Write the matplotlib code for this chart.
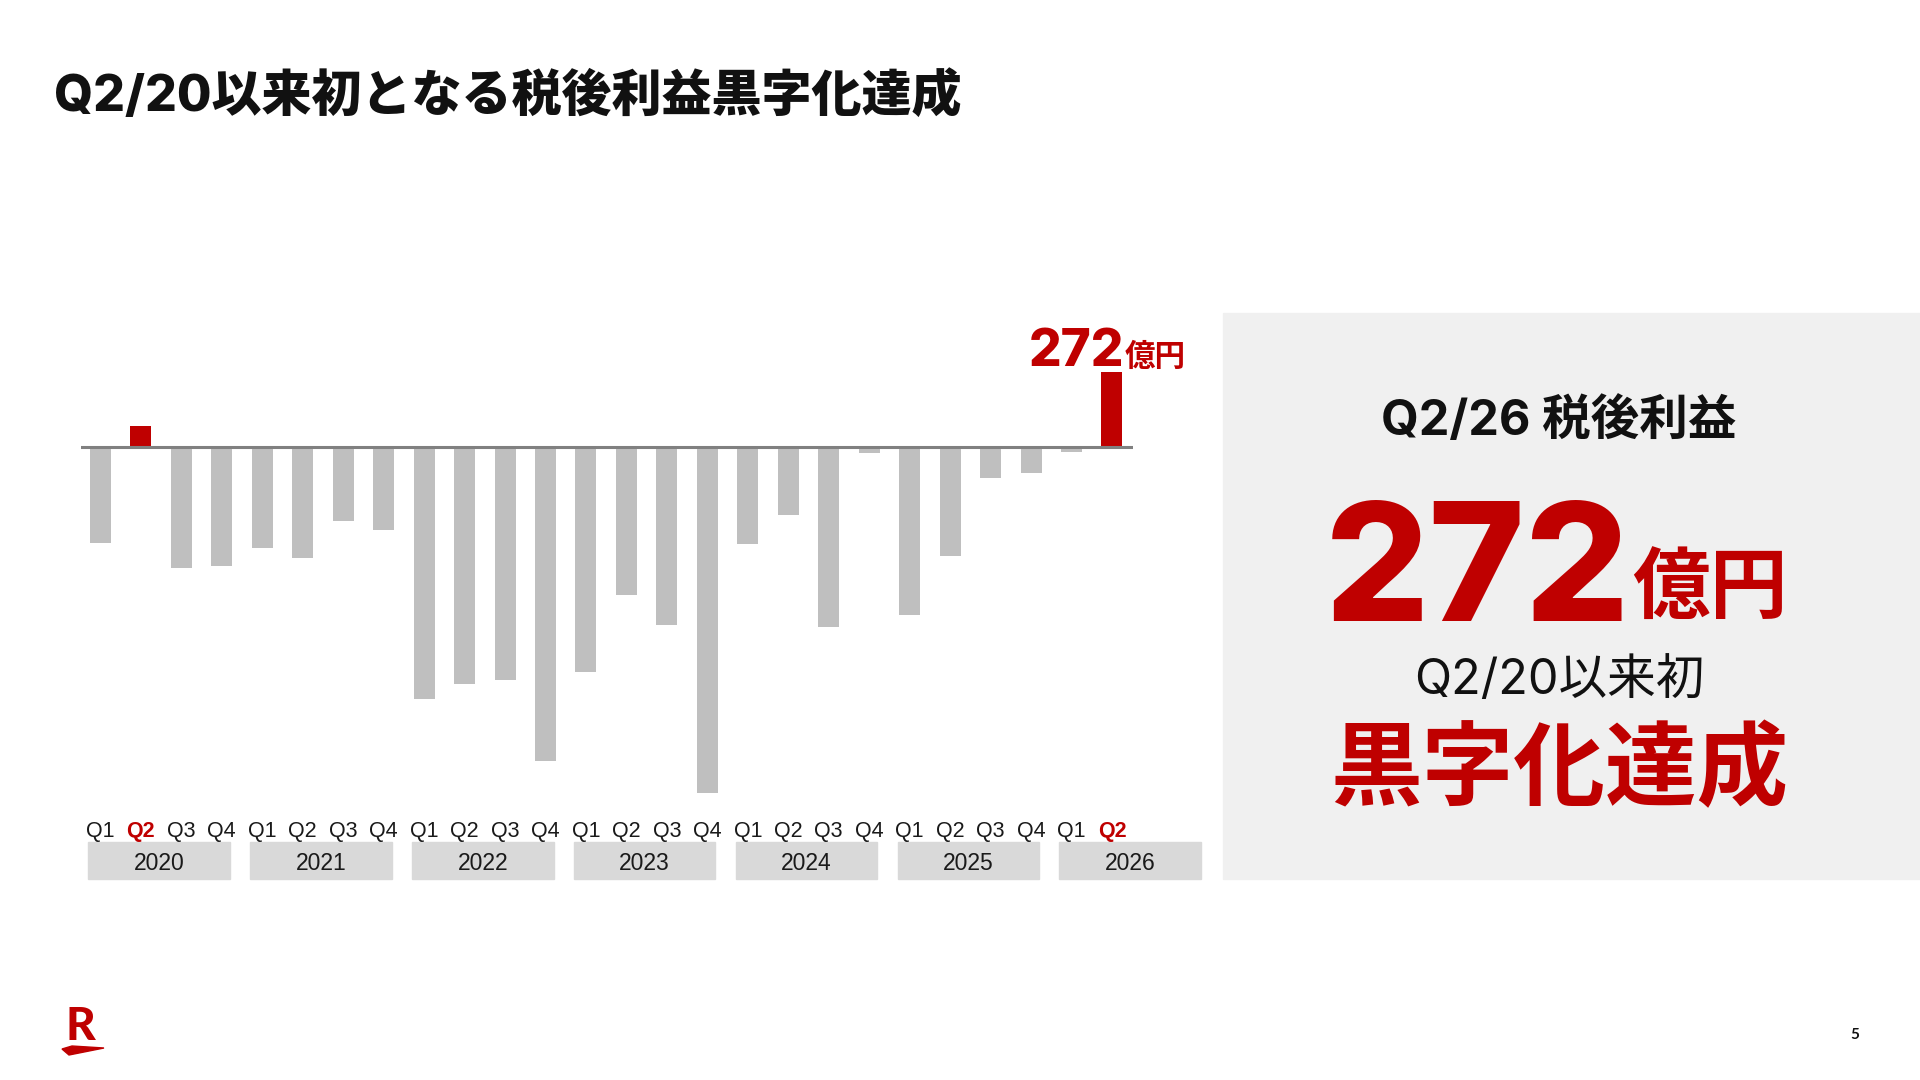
import matplotlib.pyplot as plt
from matplotlib.patches import Rectangle, Polygon
from matplotlib.transforms import blended_transform_factory

# quarterly net income (億円), Q1/2020 .. Q2/2026
years = ['2020', '2021', '2022', '2023', '2024', '2025', '2026']
quarters = ['Q1', 'Q2', 'Q3', 'Q4'] * 6 + ['Q1', 'Q2']
values = [-352, 77, -443, -433,
          -370, -405, -271, -303,
          -920, -864, -851, -1146,
          -822, -540, -649, -1265,
          -355, -249, -656, -23,
          -614, -398, -112, -96,
          -18, 272]
highlight = [1, 25]

RED = '#bf0000'
GRAY = '#bfbfbf'
JP = ['Noto Sans CJK JP', 'DejaVu Sans']
MIX = ['Inter', 'Noto Sans CJK JP', 'DejaVu Sans']
LAT = ['Liberation Sans', 'DejaVu Sans']

plt.rcParams['font.family'] = JP

W, H = 1920, 1080
fig = plt.figure(figsize=(19.2, 10.8), dpi=100)
fig.patch.set_facecolor('white')

def fx(px):
    return px / W

def fy(py):
    return 1 - py / H

# chart axes, placed so 0 sits at y=447px
ax = fig.add_axes([fx(81), fy(803), fx(1133) - fx(81), fy(310) - fy(803)])
x = list(range(len(values)))
colors = [RED if i in highlight else GRAY for i in x]
ax.bar(x, values, width=0.52, color=colors, zorder=2)
ax.axhline(0, color='#808080', lw=2.2, zorder=3)
ax.set_xlim(-0.48, 25.52)
ax.set_ylim(-1300, 500)
for s in ax.spines.values():
    s.set_visible(False)
ax.set_yticks([])
ax.set_xticks(x)
ax.set_xticklabels(quarters, family=LAT, fontsize=15.5, color='#1a1a1a')
ax.tick_params(axis='x', length=0, pad=13)
for i, lab in enumerate(ax.get_xticklabels()):
    if i in highlight:
        lab.set_color(RED)
        lab.set_fontweight('bold')

# value label above last bar
ax.annotate('272', xy=(25, values[25]), xytext=(9, 5), textcoords='offset points',
            ha='right', va='baseline', color=RED, fontsize=37, fontweight='heavy',
            family=MIX)
ax.annotate('億円', xy=(25, values[25]), xytext=(9.5, 5), textcoords='offset points',
            ha='left', va='baseline', color=RED, fontsize=22, fontweight='bold')

# year boxes under the quarter labels
tr = blended_transform_factory(ax.transData, fig.transFigure)
for k, yr in enumerate(years):
    i0 = k * 4
    ax.add_patch(Rectangle((i0 - 0.3, fy(879)), 3.5, fy(842) - fy(879),
                           transform=tr, color='#d9d9d9', clip_on=False, zorder=1))
    ax.text(i0 + 1.45, fy(863), yr, transform=tr, ha='center', va='center',
            family=LAT, fontsize=16.5, color='#1a1a1a')

# title
fig.text(fx(54), fy(96), 'Q2/20以来初となる税後利益黒字化達成', ha='left', va='center',
         fontsize=36, fontweight='heavy', color='#111111', family=MIX)

# right highlight panel
fig.patches.append(Rectangle((fx(1223), fy(879)), fx(1920) - fx(1223), fy(313) - fy(879),
                             transform=fig.transFigure, color='#f0f0f0', zorder=0))
fig.text(fx(1559), fy(422), 'Q2/26 税後利益', ha='center', va='center',
         fontsize=35, fontweight='bold', color='#111111', family=MIX)
fig.text(fx(1630), fy(621), '272', ha='right', va='baseline',
         fontsize=118, fontweight='heavy', color=RED, family=MIX)
fig.text(fx(1632), fy(612), '億円', ha='left', va='baseline',
         fontsize=56, fontweight='bold', color=RED)
fig.text(fx(1559), fy(681), 'Q2/20以来初', ha='center', va='center',
         fontsize=35, color='#111111', family=MIX)
fig.text(fx(1559), fy(771), '黒字化達成', ha='center', va='center',
         fontsize=66, fontweight='bold', color=RED)

# logo and page number
fig.text(fx(80), fy(1027), 'R', ha='center', va='center', family=['Lato', 'DejaVu Sans'],
         fontsize=33, fontweight='black', color=RED)
fig.patches.append(Polygon([(fx(62), fy(1049)), (fx(69), fy(1055)), (fx(104), fy(1048)),
                            (fx(72), fy(1046))], closed=True, transform=fig.transFigure,
                           color=RED))
fig.text(fx(1855), fy(1035), '5', ha='center', va='center', family=['Lato', 'DejaVu Sans'],
         fontsize=11, fontweight='bold', color='#111111')

fig.savefig('out.png', dpi=100, facecolor='white')
